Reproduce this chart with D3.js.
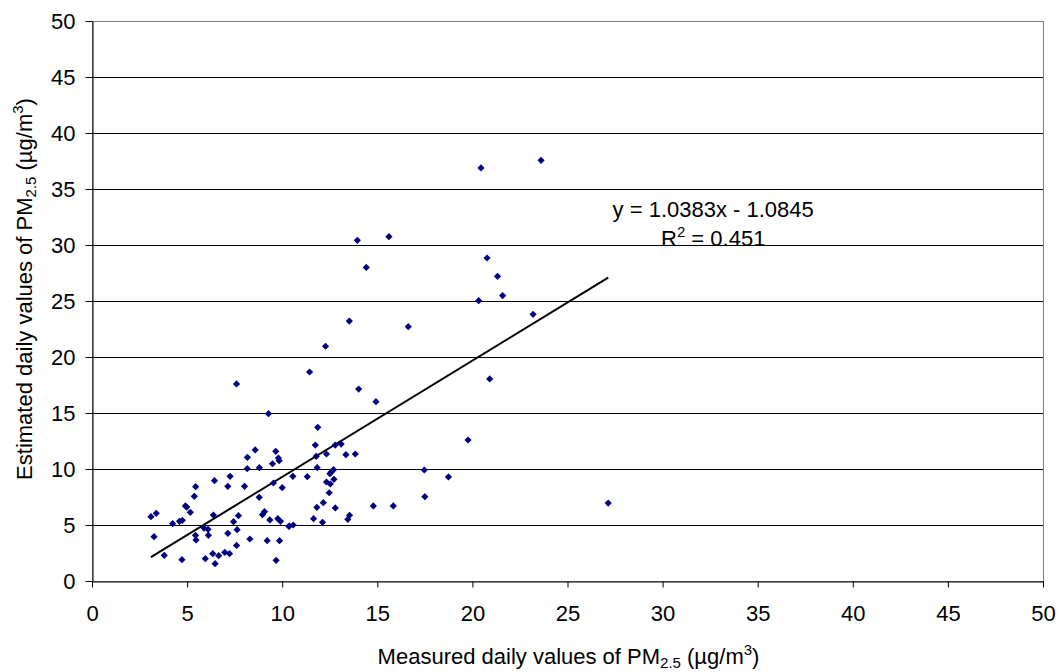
<!DOCTYPE html>
<html>
<head>
<meta charset="utf-8">
<script src="https://cdn.jsdelivr.net/npm/d3@7"></script>
<style>
  body { margin: 0; background: #fff; }
  #chart svg { display: block; font-family: "Liberation Sans", Arial, sans-serif; }
</style>
</head>
<body>
<div id="chart"></div>
<script>
// measured vs estimated daily PM2.5 (µg/m3)
const measured = [
  7.6, 9.28, 8.58, 8.17, 9.66, 9.8, 9.84, 9.49, 8.16, 8.8,
  6.44, 7.26, 5.45, 7.14, 8.02, 9.54, 10.0, 5.38, 8.79, 4.91,
  4.98, 5.17, 3.1, 3.38, 4.24, 4.6, 4.75, 6.38, 7.7, 7.44,
  8.96, 9.07, 9.35, 9.77, 9.91, 10.35, 5.89, 6.1, 6.12, 5.44,
  5.47, 3.26, 7.14, 7.63, 8.3, 7.6, 9.21, 9.86, 3.8, 4.73,
  5.96, 6.35, 6.47, 6.66, 6.98, 7.23, 9.68,
  14.02, 14.93, 11.87, 11.74, 12.79, 13.1, 11.79, 12.33, 13.35, 13.84,
  11.84, 10.56, 11.32, 12.7, 12.58, 12.51, 12.72, 12.33, 12.53, 12.47,
  17.47, 17.5, 12.16, 11.82, 12.79, 14.79, 15.84, 13.54, 13.45, 11.65,
  12.12, 10.38, 10.58,
  13.95, 15.61, 14.42, 13.53, 16.63, 12.28, 11.44,
  20.45, 23.61, 20.77, 21.32, 21.59, 20.33, 23.19, 20.91, 19.77, 18.74, 27.14
];
const estimated = [
  17.6, 14.94, 11.7, 11.04, 11.58, 10.98, 10.74, 10.47, 10.03, 10.12,
  8.96, 9.35, 8.42, 8.45, 8.45, 8.75, 8.33, 7.56, 7.47, 6.7,
  6.6, 6.13, 5.74, 6.04, 5.12, 5.33, 5.42, 5.89, 5.83, 5.3,
  5.92, 6.19, 5.45, 5.56, 5.33, 4.88, 4.73, 4.61, 4.08, 4.08,
  3.66, 3.96, 4.26, 4.58, 3.75, 3.18, 3.6, 3.6, 2.29, 1.9,
  1.99, 2.44, 1.55, 2.26, 2.56, 2.44, 1.85,
  17.14, 16.01, 13.72, 12.14, 12.14, 12.23, 11.13, 11.34, 11.28, 11.34,
  10.12, 9.35, 9.31, 9.94, 9.73, 9.58, 9.08, 8.84, 8.66, 7.88,
  9.91, 7.53, 6.99, 6.58, 6.52, 6.7, 6.7, 5.87, 5.51, 5.56,
  5.24, 4.91, 5.0,
  30.42, 30.74, 28.0, 23.21, 22.71, 20.96, 18.66,
  36.88, 37.56, 28.84, 27.2, 25.48, 25.03, 23.81, 18.04, 12.59, 9.29, 6.96
];
const xTicks = [0, 5, 10, 15, 20, 25, 30, 35, 40, 45, 50];
const yTicks = [0, 5, 10, 15, 20, 25, 30, 35, 40, 45, 50];
const slope = 1.0383;
const intercept = -1.0845;
const rSquared = "0.451";

const size = {
  width: 1060,
  height: 672,
  margin: { top: 21, right: 17, bottom: 91, left: 92 }
};
const w = size.width - size.margin.left - size.margin.right;
const h = size.height - size.margin.top - size.margin.bottom;

const points = measured.map((x, i) => ({ x: x, y: estimated[i] }));

const xScale = d3.scaleLinear().domain([0, 50]).range([0, w]);
const yScale = d3.scaleLinear().domain([0, 50]).range([h, 0]);

const svg = d3.select("#chart")
  .append("svg")
  .attr("width", size.width)
  .attr("height", size.height);

const g = svg.append("g")
  .attr("transform", `translate(${size.margin.left}, ${size.margin.top})`);

// gridlines
g.append("g")
  .selectAll("line")
  .data(yTicks.filter(d => d > 0))
  .enter()
  .append("line")
  .attr("x1", 0)
  .attr("x2", w)
  .attr("y1", d => yScale(d) + 0.5)
  .attr("y2", d => yScale(d) + 0.5)
  .attr("stroke", "#000")
  .attr("stroke-width", 1);

// plot border
g.append("rect")
  .attr("x", 0.5)
  .attr("y", 0.5)
  .attr("width", w)
  .attr("height", h)
  .attr("fill", "none")
  .attr("stroke", "#808080");

// X axis
const xAxis = g.append("g")
  .attr("transform", `translate(0, ${h + 0.5})`)
  .call(d3.axisBottom(xScale).tickValues(xTicks).tickSizeInner(6).tickSizeOuter(0).tickPadding(18));

// Y axis
const yAxis = g.append("g")
  .attr("transform", `translate(0.5, 0)`)
  .call(d3.axisLeft(yScale).tickValues(yTicks).tickSizeInner(7).tickSizeOuter(0).tickPadding(10));

[xAxis, yAxis].forEach(ax => {
  ax.selectAll("path.domain").attr("stroke", "#000");
  ax.selectAll(".tick line").attr("stroke", "#000");
  ax.selectAll(".tick text")
    .attr("fill", "#000")
    .style("font-size", "22px")
    .style("font-family", "'Liberation Sans', Arial, sans-serif");
});

// trend line over the measured range
const xMin = d3.min(measured);
const xMax = d3.max(measured);
const line = d3.line()
  .x(d => xScale(d))
  .y(d => yScale(slope * d + intercept));
g.append("path")
  .attr("d", line([xMin, xMax]))
  .attr("fill", "none")
  .attr("stroke", "#000")
  .attr("stroke-width", 2);

// data points (diamonds)
g.append("g")
  .selectAll("path")
  .data(points)
  .enter()
  .append("path")
  .attr("d", d3.symbol(d3.symbolSquare, 26))
  .attr("transform", d => `translate(${xScale(d.x)}, ${yScale(d.y)}) rotate(45)`)
  .attr("fill", "#000080");

// equation label
const eq = g.append("g")
  .style("font-size", "22px")
  .attr("fill", "#000");
eq.append("text")
  .attr("x", xScale(32.66))
  .attr("y", yScale(32.5))
  .attr("text-anchor", "middle")
  .text(`y = ${slope}x - ${Math.abs(intercept)}`);
const r2 = eq.append("text")
  .attr("x", xScale(32.66))
  .attr("y", yScale(29.9))
  .attr("text-anchor", "middle");
r2.append("tspan").text("R");
r2.append("tspan").attr("dy", -9).style("font-size", "15px").text("2");
r2.append("tspan").attr("dy", 9).text(` = ${rSquared}`);

// axis titles
function title(sel, pre) {
  sel.append("tspan").text(pre + " daily values of PM");
  sel.append("tspan").attr("dy", 4).style("font-size", "15px").text("2.5");
  sel.append("tspan").attr("dy", -4).text(" (µg/m");
  sel.append("tspan").attr("dy", -9).style("font-size", "15px").text("3");
  sel.append("tspan").attr("dy", 9).text(")");
}

const xt = svg.append("text")
  .attr("x", size.margin.left + w / 2 + 1)
  .attr("y", 664)
  .attr("text-anchor", "middle")
  .style("font-size", "22px")
  .attr("fill", "#000");
title(xt, "Measured");

const yt = svg.append("text")
  .attr("transform", `translate(32, 289) rotate(-90)`)
  .attr("text-anchor", "middle")
  .style("font-size", "22px")
  .attr("fill", "#000");
title(yt, "Estimated");
</script>
</body>
</html>
